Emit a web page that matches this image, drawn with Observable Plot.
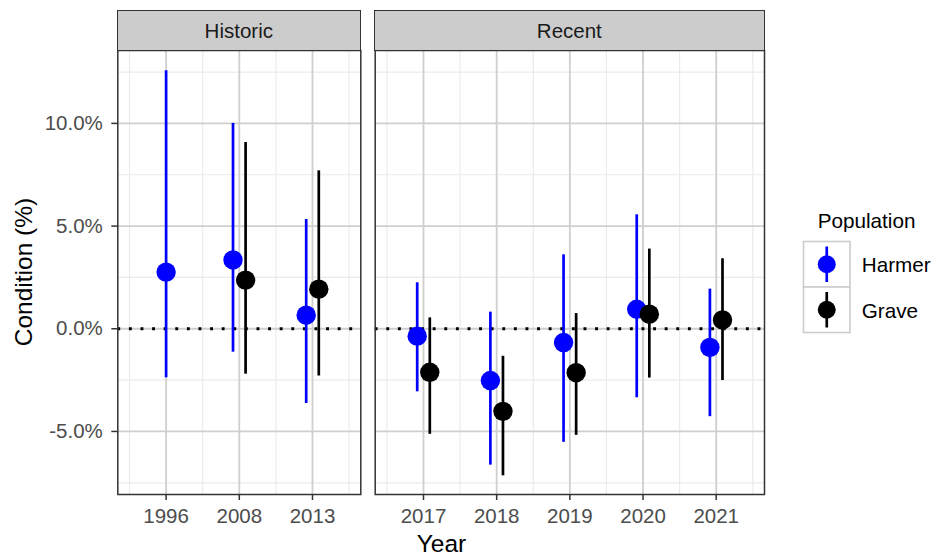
<!DOCTYPE html>
<html>
<head>
<meta charset="utf-8">
<script src="https://cdn.jsdelivr.net/npm/d3@7"></script>
<script src="https://cdn.jsdelivr.net/npm/@observablehq/plot@0.6"></script>
<style>
  body { margin: 0; background: #fff; font-family: "Liberation Sans", Arial, sans-serif; }
  #chart { position: relative; width: 933px; height: 555px; overflow: hidden; }
  #chart > * { position: absolute; }
  .strip { box-sizing: border-box; background: #cccccc; border: 1.5px solid #333; color: #1a1a1a;
           font-size: 20.5px; display: flex; align-items: center; justify-content: center; }
  .title { font-size: 24.5px; color: #000; white-space: nowrap; line-height: 1; }
  .legend-text { font-size: 20.7px; color: #000; white-space: nowrap; line-height: 1; transform: translateY(-50%); }
</style>
</head>
<body>
<div id="chart"></div>
<script>
// Survey years in each period
const historicYears = ["1996", "2008", "2013"];
const recentYears = ["2017", "2018", "2019", "2020", "2021"];

// Populations and their colours
const populations = ["Harmer", "Grave"];
const popColors = ["#0000ff", "#000000"];

// Condition estimates (%) with lower / upper interval bounds
const harmerHistoricEst = [2.76, 3.35, 0.66];
const harmerHistoricLo  = [-2.38, -1.14, -3.64];
const harmerHistoricHi  = [12.56, 10.0, 5.32];
const graveHistoricEst  = [null, 2.37, 1.93];
const graveHistoricLo   = [null, -2.21, -2.30];
const graveHistoricHi   = [null, 9.07, 7.69];

const harmerRecentEst = [-0.36, -2.52, -0.67, 0.95, -0.91];
const harmerRecentLo  = [-3.07, -6.64, -5.53, -3.36, -4.28];
const harmerRecentHi  = [2.24, 0.81, 3.60, 5.55, 1.93];
const graveRecentEst  = [-2.12, -4.02, -2.14, 0.71, 0.43];
const graveRecentLo   = [-5.14, -7.16, -5.19, -2.40, -2.52];
const graveRecentHi   = [0.53, -1.34, 0.74, 3.88, 3.41];

// Y axis ticks (%)
const yTicks = [-5, 0, 5, 10];
const yMinor = [-7.5, -2.5, 2.5, 7.5, 12.5];
const yDomain = [-8.07, 13.55];

const dodge = 0.172;   // horizontal dodge between populations
const xPad = 0.66;     // padding around the first/last year

function buildRows(years, series) {
  const rows = [];
  years.forEach((year, i) => {
    const present = series.filter(s => s.est[i] != null);
    present.forEach((s, k) => {
      const offset = present.length > 1 ? (k - (present.length - 1) / 2) * dodge : 0;
      rows.push({year, pop: s.pop, x: i + 1 + offset, est: s.est[i], lo: s.lo[i], hi: s.hi[i]});
    });
  });
  return rows;
}

const historicRows = buildRows(historicYears, [
  {pop: "Harmer", est: harmerHistoricEst, lo: harmerHistoricLo, hi: harmerHistoricHi},
  {pop: "Grave", est: graveHistoricEst, lo: graveHistoricLo, hi: graveHistoricHi}
]);
const recentRows = buildRows(recentYears, [
  {pop: "Harmer", est: harmerRecentEst, lo: harmerRecentLo, hi: harmerRecentHi},
  {pop: "Grave", est: graveRecentEst, lo: graveRecentLo, hi: graveRecentHi}
]);

function panel({years, rows, width, marginLeft, marginRight, yAxis}) {
  const n = years.length;
  const idx = d3.range(1, n + 1);
  const halves = d3.range(0, n + 1).map(i => i + 0.5);
  return Plot.plot({
    width, height: 555,
    marginTop: 50, marginBottom: 61, marginLeft, marginRight,
    style: {fontFamily: '"Liberation Sans", Arial, sans-serif', background: "transparent", overflow: "visible"},
    x: {domain: [1 - xPad, n + xPad], axis: null},
    y: {domain: yDomain, axis: null},
    color: {domain: populations, range: popColors},
    marks: [
      Plot.ruleY(yMinor, {stroke: "#ebebeb", strokeWidth: 1.2}),
      Plot.ruleX(halves, {stroke: "#ebebeb", strokeWidth: 1.2}),
      Plot.ruleY(yTicks, {stroke: "#cfcfcf", strokeWidth: 1.8}),
      Plot.ruleX(idx, {stroke: "#cfcfcf", strokeWidth: 1.8}),
      Plot.ruleY([0], {stroke: "#000", strokeWidth: 2.9, strokeDasharray: "2.9 8.7"}),
      Plot.ruleX(rows, {x: "x", y1: "lo", y2: "hi", stroke: "pop", strokeWidth: 2.7}),
      Plot.dot(rows, {x: "x", y: "est", fill: "pop", r: 9.7}),
      Plot.frame({stroke: "#333", strokeWidth: 1.5}),
      Plot.axisX(idx, {
        tickFormat: i => years[i - 1], tickSize: 6, tickPadding: 8, fontSize: 20.5,
        stroke: "#333", strokeWidth: 1.5, fill: "#4d4d4d", label: null
      }),
      yAxis ? Plot.axisY(yTicks, {
        tickFormat: d => d.toFixed(1) + "%", tickSize: 6, tickPadding: 9, fontSize: 20.5,
        stroke: "#333", strokeWidth: 1.5, fill: "#4d4d4d", label: null
      }) : null
    ]
  });
}

const chart = document.getElementById("chart");

const left = panel({years: historicYears, rows: historicRows, width: 362, marginLeft: 117.3, marginRight: 1.7, yAxis: true});
left.style.left = "0px"; left.style.top = "0px";
chart.appendChild(left);

const right = panel({years: recentYears, rows: recentRows, width: 420, marginLeft: 12.7, marginRight: 18, yAxis: false});
right.style.left = "362px"; right.style.top = "0px";
chart.appendChild(right);

// Facet strips
function strip(label, x0, x1) {
  const d = document.createElement("div");
  d.className = "strip";
  d.textContent = label;
  Object.assign(d.style, {left: x0 + "px", top: "10px", width: (x1 - x0) + "px", height: "41px"});
  chart.appendChild(d);
}
strip("Historic", 116.6, 361);
strip("Recent", 374, 764.7);

// Axis titles
function title(text, x, y, rotate) {
  const d = document.createElement("div");
  d.className = "title";
  d.textContent = text;
  Object.assign(d.style, {left: x + "px", top: y + "px",
    transform: `translate(-50%, -50%)${rotate ? " rotate(-90deg)" : ""}`});
  chart.appendChild(d);
}
title("Condition (%)", 24, 272, true);
title("Year", 441.5, 543.5, false);

// Legend
const legendTitle = document.createElement("div");
legendTitle.className = "legend-text";
legendTitle.textContent = "Population";
Object.assign(legendTitle.style, {left: "817.7px", top: "221px"});
chart.appendChild(legendTitle);

const keyX = 803.5, keyW = 46.5, keyTop = 241.5, keyH = 45.5;
const legendSvg = d3.create("svg")
  .attr("width", 933).attr("height", 555)
  .style("left", "0px").style("top", "0px").style("pointer-events", "none");
populations.forEach((p, i) => {
  const y0 = keyTop + i * keyH;
  const g = legendSvg.append("g");
  g.append("rect").attr("x", keyX).attr("y", y0).attr("width", keyW).attr("height", keyH)
    .attr("fill", "#fff").attr("stroke", "#cccccc").attr("stroke-width", 1.6);
  const cx = keyX + keyW / 2, cy = y0 + keyH / 2;
  g.append("line").attr("x1", cx).attr("x2", cx).attr("y1", y0 + 5).attr("y2", y0 + keyH - 5)
    .attr("stroke", popColors[i]).attr("stroke-width", 2.7);
  g.append("circle").attr("cx", cx).attr("cy", cy).attr("r", 9).attr("fill", popColors[i]);
  const t = document.createElement("div");
  t.className = "legend-text";
  t.textContent = p;
  Object.assign(t.style, {left: "861.7px", top: (cy + 1) + "px"});
  chart.appendChild(t);
});
chart.appendChild(legendSvg.node());
</script>
</body>
</html>
